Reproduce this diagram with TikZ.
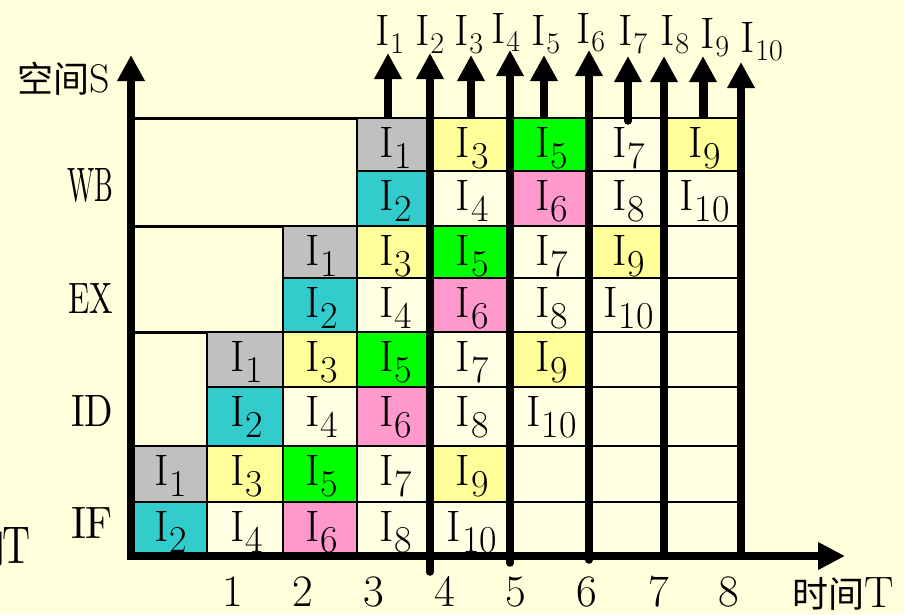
\documentclass[tikz,border=0pt]{standalone}
\usepackage{fontspec}
\newfontfamily\cjk{Noto Sans CJK SC}
\usetikzlibrary{arrows.meta}
\definecolor{bg}{HTML}{FFFFDC}
\definecolor{cbl}{HTML}{FFFFE3}
\definecolor{cgray}{HTML}{C0C0C0}
\definecolor{ccyan}{HTML}{33CCCC}
\definecolor{cyel}{HTML}{FFFF99}
\definecolor{cgrn}{HTML}{00FF00}
\definecolor{cpink}{HTML}{FF99CC}
\newcommand{\Isub}[1]{{\fontsize{44}{44}\selectfont I\kern1pt\raisebox{-11pt}{\fontsize{38}{38}\selectfont #1}}}
\newcommand{\Itop}[1]{{\fontsize{44}{44}\selectfont I\kern1pt\raisebox{-8pt}{\fontsize{30}{30}\selectfont #1}}}
\begin{document}
\begin{tikzpicture}[x=1pt,y=-1pt,
  cell/.style={draw=black,line width=2.5pt,inner sep=0pt,outer sep=0pt},
  lbl/.style={inner sep=0pt,outer sep=0pt,anchor=base},
  gridline/.style={line width=3pt},
  bar/.style={line width=7.5pt},
  tipA/.style={-{Triangle[length=26pt,width=26pt]}},
  axis/.style={line width=7.5pt,line join=miter,{Triangle[length=26pt,width=26pt]}-{Triangle[length=27pt,width=26pt]}},
  txt/.style={inner sep=0pt,outer sep=0pt}]
\useasboundingbox[fill=bg] (0,0) rectangle (904,614);
% stage boundary lines
\coordinate (h1a) at (134,118); \coordinate (h1b) at (741,118);
\coordinate (h2a) at (134,226); \coordinate (h2b) at (741,226);
\coordinate (h3a) at (134,332); \coordinate (h3b) at (741,332);
\coordinate (h4a) at (134,446); \coordinate (h4b) at (741,446);
\draw[gridline] (h1a) -- (h1b);
\draw[gridline] (h2a) -- (h2b);
\draw[gridline] (h3a) -- (h3b);
\draw[gridline] (h4a) -- (h4b);
% cells
\def\xe{{131,207,283,357,430,510,589,664,741}}
\def\ye{{118,171,226,278,332,387,446,502,556}}
\foreach \r/\c/\t/\f in {
 0/3/1/cgray, 0/4/3/cyel, 0/5/5/cgrn, 0/6/7/cbl, 0/7/9/cyel,
 1/3/2/ccyan, 1/4/4/cbl, 1/5/6/cpink, 1/6/8/cbl, 1/7/10/cbl,
 2/2/1/cgray, 2/3/3/cyel, 2/4/5/cgrn, 2/5/7/cbl, 2/6/9/cyel, 2/7/0/cbl,
 3/2/2/ccyan, 3/3/4/cbl, 3/4/6/cpink, 3/5/8/cbl, 3/6/10/cbl, 3/7/0/cbl,
 4/1/1/cgray, 4/2/3/cyel, 4/3/5/cgrn, 4/4/7/cbl, 4/5/9/cyel, 4/6/0/cbl, 4/7/0/cbl,
 5/1/2/ccyan, 5/2/4/cbl, 5/3/6/cpink, 5/4/8/cbl, 5/5/10/cbl, 5/6/0/cbl, 5/7/0/cbl,
 6/0/1/cgray, 6/1/3/cyel, 6/2/5/cgrn, 6/3/7/cbl, 6/4/9/cyel, 6/5/0/cbl, 6/6/0/cbl, 6/7/0/cbl,
 7/0/2/ccyan, 7/1/4/cbl, 7/2/6/cpink, 7/3/8/cbl, 7/4/10/cbl, 7/5/0/cbl, 7/6/0/cbl, 7/7/0/cbl}{
  \pgfmathsetmacro\xa{\xe[\c]}
  \pgfmathsetmacro\xb{\xe[\c+1]}
  \pgfmathsetmacro\ya{\ye[\r]}
  \pgfmathsetmacro\yb{\ye[\r+1]}
  \pgfmathsetmacro\cx{(\xa+\xb)/2}
  \pgfmathsetmacro\cy{(\ya+\yb)/2}
  \pgfmathsetmacro\w{\xb-\xa}
  \pgfmathsetmacro\h{\yb-\ya}
  \node[cell,fill=\f,minimum width=\w pt,minimum height=\h pt] (cell-\r-\c) at (\cx,\cy) {};
  \node[lbl] (t-\r-\c) at (\cx+2,\ya+39) {\ifnum\t>0 \Isub{\t}\fi};
}
% output arrows and thick lines
\foreach \n/\x/\ty/\by/\cp/\lw in {1/388/53/118/butt/7.5, 2/430/53/572/round/7.5,
  3/471/55/118/butt/7.5, 4/510/50/563/round/7.5, 5/544/55/118/butt/7.5,
  6/589/50/560/round/7.5, 7/628/56/121/round/7.5, 8/664/56/556/round/7.5,
  9/703/56/118/butt/9, 10/741/62/556/round/7.5}{
  \coordinate (b\n) at (\x,\by);
  \coordinate (a\n) at (\x,\ty);
  \draw[bar,line width=\lw pt,line cap=\cp,tipA] (b\n) -- (a\n);
}
% top labels
\foreach \n/\x/\y in {1/375/45, 2/415/45, 3/454/45, 4/491/43, 5/531/45,
  6/576/43, 7/618/45, 8/660/45, 9/700/48, 10/740/52}{
  \node[txt,anchor=base west] (top\n) at (\x,\y) {\Itop{\n}};
}
% axes
\coordinate (O) at (131,556);
\coordinate (ytip) at (131,55);
\coordinate (xtip) at (845,556);
\draw[axis] (ytip) -- (O) -- (xtip);
% time labels
\foreach \n/\x in {1/233, 2/303, 3/374, 4/445, 5/516, 6/587, 7/659, 8/729}{
  \node[txt,anchor=base] (tl\n) at (\x,606) {\fontsize{45}{45}\selectfont \n};
}
% stage labels
\node[txt,anchor=base west] (WB) at (67,201) {\resizebox{46pt}{33pt}{WB}};
\node[txt,anchor=base west] (EX) at (68,313) {\resizebox{45pt}{30pt}{EX}};
\node[txt,anchor=base west] (ID) at (71,426) {\resizebox{42pt}{31pt}{ID}};
\node[txt,anchor=base west] (IF) at (71,538) {\resizebox{42pt}{31pt}{IF}};
% axis titles
\node[txt,anchor=base west] (ylab) at (17,92) {{\cjk\fontsize{36}{36}\selectfont 空间}{\fontsize{40}{40}\selectfont S}};
\node[txt,anchor=base west] (xlab) at (792,607) {{\cjk\fontsize{36}{36}\selectfont 时间}{\fontsize{44}{44}\selectfont T}};
\node[txt,anchor=base east] (cut) at (31,563) {{\cjk\fontsize{40}{40}\selectfont 间}\kern-3pt\resizebox{28pt}{36pt}{T}};
\end{tikzpicture}
\end{document}
